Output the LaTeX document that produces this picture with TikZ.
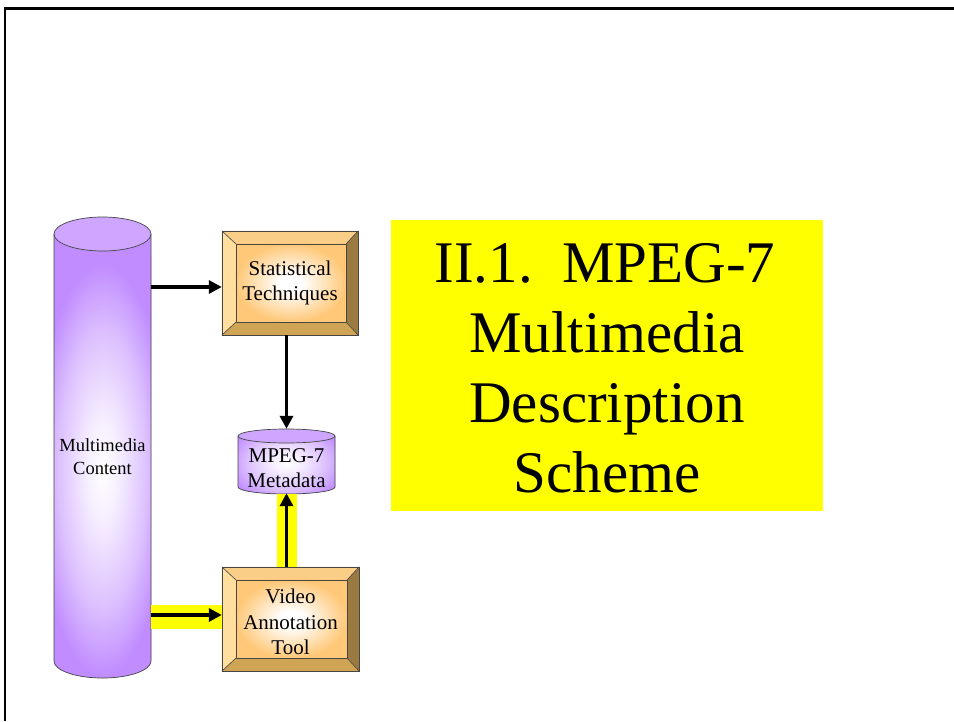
\documentclass[tikz,border=0pt]{standalone}
\usepackage{fontspec}
\setmainfont{Liberation Serif}
\usetikzlibrary{calc,arrows.meta}

\definecolor{purp}{RGB}{192,140,255}
\definecolor{purptop}{RGB}{206,166,255}
\definecolor{bvtop}{RGB}{250,206,134}
\definecolor{bvleft}{RGB}{255,222,158}
\definecolor{bvright}{RGB}{154,122,64}
\definecolor{bvbot}{RGB}{207,164,84}
\definecolor{face}{RGB}{255,200,120}
\definecolor{band}{RGB}{255,255,0}
\definecolor{edge}{RGB}{70,70,70}

% soft glows used for the cylinders and the box faces
% (the filled path's bounding box spans -25bp..25bp of the shading)
\pgfdeclareradialshading{purpglow}{\pgfpoint{0bp}{0bp}}{color(0bp)=(white); color(6bp)=(white!85!purp); color(16bp)=(white!45!purp); color(24bp)=(purp); color(50bp)=(purp)}
\pgfdeclareradialshading{faceglow}{\pgfpoint{0bp}{0bp}}{color(0bp)=(white); color(5bp)=(white); color(25bp)=(face); color(50bp)=(face)}

\tikzset{
  lbl/.style={font=\fontsize{21}{25.5}\selectfont, align=center, inner sep=0pt},
  ttl/.style={font=\fontsize{59}{70}\selectfont, inner sep=0pt, anchor=base},
  arr/.style={line width=3.4pt, -{Triangle[length=13pt,width=13pt]}},
  bevel/.style={draw=edge, line width=0.6pt},
  frame/.style={line width=2.2pt, black}
}

% bevelled box around a named node
\newcommand\bevelbox[1]{%
  \fill[bvtop] (#1.north west) -- (#1.north east) -- ([shift={(-12,13)}]#1.north east) -- ([shift={(14,13)}]#1.north west) -- cycle;
  \fill[bvleft] (#1.north west) -- ([shift={(14,13)}]#1.north west) -- ([shift={(14,-13)}]#1.south west) -- (#1.south west) -- cycle;
  \fill[bvright] (#1.north east) -- (#1.south east) -- ([shift={(-12,-13)}]#1.south east) -- ([shift={(-12,13)}]#1.north east) -- cycle;
  \fill[bvbot] (#1.south west) -- ([shift={(14,-13)}]#1.south west) -- ([shift={(-12,-13)}]#1.south east) -- (#1.south east) -- cycle;
  \shade[shading=faceglow] ([shift={(14,13)}]#1.north west) rectangle ([shift={(-12,-13)}]#1.south east);
  \draw[bevel] (#1.north west) rectangle (#1.south east);
  \draw[bevel] ([shift={(14,13)}]#1.north west) rectangle ([shift={(-12,-13)}]#1.south east);
  \draw[bevel] (#1.north west) -- ([shift={(14,13)}]#1.north west);
  \draw[bevel] (#1.north east) -- ([shift={(-12,13)}]#1.north east);
  \draw[bevel] (#1.south west) -- ([shift={(14,-13)}]#1.south west);
  \draw[bevel] (#1.south east) -- ([shift={(-12,-13)}]#1.south east);
}

\begin{document}
\begin{tikzpicture}[x=1pt,y=-1pt]
\useasboundingbox (0,0) rectangle (954,721);
\fill[white] (0,0) rectangle (954,721);

% page frame
\draw[frame] (5,721) -- (5,8.5) -- (954,8.5);

% ---- Multimedia Content cylinder ----
\node[minimum width=97pt, minimum height=444pt, inner sep=0pt] (mc) at (102.5,447.5) {};
\begin{scope}
  \clip (54,234) -- (54,661) arc[start angle=180, end angle=0, x radius=48.5, y radius=17]
        -- (151,234) -- cycle;
  \fill[purp] (40,200) rectangle (170,700);
  \shade[shading=purpglow] (33,255) rectangle (172,685);
\end{scope}
\draw[edge, line width=0.7pt] (54,234) -- (54,661) arc[start angle=180, end angle=0, x radius=48.5, y radius=17] -- (151,234);
\draw[edge, line width=0.7pt, fill=purptop] (102.5,234) ellipse[x radius=48.5, y radius=17];
\node[font=\fontsize{18.5}{23}\selectfont, align=center, inner sep=0pt] (mctext) at (102.5,457) {Multimedia\\Content};

% ---- boxes ----
\node[minimum width=136pt, minimum height=104pt, inner sep=0pt] (stat) at (290,283) {};
\bevelbox{stat}
\node[lbl] (stattext) at (stat.center) {Statistical\\Techniques};

\node[minimum width=137pt, minimum height=104pt, inner sep=0pt] (vat) at (290.5,619) {};
\bevelbox{vat}
\node[lbl] (vattext) at ([yshift=-3]vat.center) {Video\\Annotation\\Tool};

% ---- MPEG-7 Metadata cylinder ----
\node[minimum width=97pt, minimum height=64pt, inner sep=0pt] (meta) at (286.5,461) {};
\begin{scope}
  \clip (238,436) -- (238,487) arc[start angle=180, end angle=0, x radius=48.5, y radius=7]
        -- (335,436) -- cycle;
  \fill[purp] (230,420) rectangle (345,500);
  \shade[shading=purpglow] (225,420) rectangle (348,505);
\end{scope}
\draw[edge, line width=0.7pt] (238,436) -- (238,487) arc[start angle=180, end angle=0, x radius=48.5, y radius=7] -- (335,436);
\draw[edge, line width=0.7pt, fill=purptop] (286.5,436) ellipse[x radius=48.5, y radius=7];
\node[lbl] (metatext) at (286.5,468) {MPEG-7\\Metadata};

% ---- highlighted flows ----
\fill[band] (151,605) rectangle (222,629);
\fill[band] (277,494) rectangle (297,567);

% ---- connectors ----
\draw[arr] ([yshift=-4]mc.east |- stat.west) -- ([yshift=-4]stat.west);
\draw[arr] (meta.north |- stat.south) -- (meta.north);
\draw[arr] ([yshift=4]mc.east |- vat.west) -- ([yshift=4]vat.west);
\draw[arr] (vat.north -| meta.south) -- (meta.south);

% ---- title ----
\fill[band] (391,220) rectangle (823,511);
\node[ttl] (title1) at (605,282) {II.1.\ \ MPEG-7};
\node[ttl] (title2) at (607,352) {Multimedia};
\node[ttl] (title3) at (607,422) {Description};
\node[ttl] (title4) at (607,492) {Scheme};
\end{tikzpicture}
\end{document}
